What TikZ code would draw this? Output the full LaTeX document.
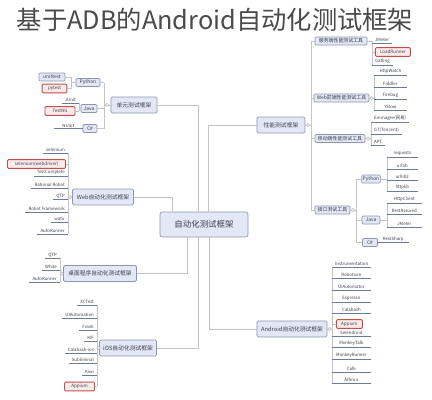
\documentclass[tikz,border=0pt]{standalone}
\usepackage{fontspec}
\setmainfont{Noto Sans CJK SC}

\definecolor{frame}{HTML}{8C96B4}
\definecolor{boxfill}{HTML}{E3E8F4}
\definecolor{wire}{HTML}{C4C4C4}
\definecolor{uline}{HTML}{6E7A98}
\definecolor{hot}{HTML}{C0504D}
\definecolor{hotfill}{HTML}{FBEAEA}
\definecolor{ink}{HTML}{3A3F4E}
\definecolor{titlegray}{HTML}{4A4A4A}

\begin{document}
\begin{tikzpicture}[x=0.25mm, y=-0.25mm, line width=0.5pt,
  root/.style={draw=frame, fill=boxfill, rounded corners=1.5pt, minimum width=22mm, minimum height=6.2mm, font=\fontsize{6}{7}\selectfont, text=ink},
  topic/.style={draw=frame, fill=boxfill, rounded corners=1pt, minimum height=4mm, inner xsep=1pt, font=\fontsize{4.1}{5}\selectfont, text=ink},
  sub/.style={draw=frame, fill=boxfill, rounded corners=0.8pt, minimum height=2mm, inner sep=0.8pt, font=\fontsize{3.5}{4}\selectfont, text=ink},
  hotbox/.style={draw=hot, fill=hotfill, line width=0.6pt, rounded corners=0.8pt, minimum height=2.2mm, inner sep=0.8pt, font=\fontsize{3.2}{4}\selectfont, text=ink},
  leaf/.style={inner xsep=2pt, inner ysep=0.6pt, font=\fontsize{3.1}{3.6}\selectfont, text=ink},
  wire/.style={draw=wire},
  uline/.style={draw=uline, line width=0.45pt},
  knob/.style={circle, draw=wire, fill=white, inner sep=0pt, minimum size=0.8mm}]

\useasboundingbox (0,0) rectangle (432,400);

\node[font=\fontsize{18}{20}\selectfont, text=titlegray] (title) at (215,20) {基于ADB的Android自动化测试框架};

% main topics
\node[root] (root) at (204,224.5) {自动化测试框架};
\node[topic, minimum width=11.5mm] (unit) at (134,105) {单元测试框架};
\node[topic, minimum width=15.25mm] (web) at (103,197) {Web自动化测试框架};
\node[topic, minimum width=18.25mm] (desk) at (100,273.5) {桌面程序自动化测试框架};
\node[topic, minimum width=14.25mm] (ios) at (128,348) {iOS自动化测试框架};
\node[topic, minimum width=12mm] (perf) at (281,125) {性能测试框架};
\node[topic, minimum width=17.5mm] (andr) at (292,329) {Android自动化测试框架};

\draw[wire] (root.north) ++(-32,0) |- (web.east);
\draw[wire] (root.north) ++(-6,0) |- (unit.east);
\draw[wire] (root.north) ++(4,0) |- (perf.west);
\draw[wire] (root.south) ++(-17,0) |- (desk.east);
\draw[wire] (root.south) ++(-6,0) |- (ios.east);
\draw[wire] (root.south) ++(5,0) |- (andr.west);

% unit tests
\node[sub, minimum width=6mm] (pyu) at (88,82.5) {Python};
\node[sub, minimum width=4mm] (jvu) at (89,108.5) {Java};
\node[sub, minimum width=3.5mm] (csu) at (90,128.5) {C\#};
\draw[wire] (104,82.5) -- (104,128.5);
\draw[wire] (unit.west) -- (104,105);
\draw[wire] (pyu.east) -- (104,82.5);
\draw[wire] (jvu.east) -- (104,108.5);
\draw[wire] (csu.east) -- (104,128.5);
\node[knob] (k-unit) at (107,105) {};

\node[sub, minimum width=6.5mm] (ut) at (52,77) {unittest};
\node[hotbox, minimum width=6.2mm] (pt) at (54.5,88.5) {pytest};
\draw[wire] (71,77) -- (71,88.5);
\draw[wire] (ut.east) -- (71,77);
\draw[wire] (pt.east) -- (71,88.5);
\draw[wire] (pyu.west) -- (71,82.5);

\node[leaf, anchor=south east] (junit) at (79,103) {JUnit};
\draw[uline] (junit.south west) -- (junit.south east);
\node[hotbox, minimum width=7.5mm] (tng) at (60,111) {TestNG};
\draw[wire] (79,103) -- (79,111);
\draw[wire] (tng.east) -- (79,111);
\draw[wire] (jvu.west) -- (79,108.5);

\node[leaf, anchor=south east, minimum width=7mm] (nunit) at (csu.west) {NUnit};
\draw[uline] (nunit.south west) -- (nunit.south east);

% web
\draw[wire] (68,153) -- (68,234);
\draw[wire] (web.west) -- (68,197);
\foreach \y/\t [count=\i] in {153/selenium, 176/TestComplete, 188/Rational Robot, 199/QTP, 212/Robot Framework, 222/watir, 234/AutoRunner}{
  \node[leaf, anchor=south east] (web-\i) at (68,\y) {\t};
  \draw[uline] (web-\i.south west) -- (web-\i.south east);
}
\node[hotbox, anchor=east, minimum width=14.5mm] (web-hot) at (66,164) {selenium(webdriver)};
\draw[wire] (web-hot.east) -- (68,164);
\node[knob] (k-web) at (70,197) {};

% desktop
\draw[wire] (60,258) -- (60,282);
\draw[wire] (desk.west) -- (60,273.5);
\foreach \y/\t [count=\i] in {258/QTP, 270/White, 282/AutoRunner}{
  \node[leaf, anchor=south east] (desk-\i) at (60,\y) {\t};
  \draw[uline] (desk-\i.south west) -- (desk-\i.south east);
}
\node[knob] (k-desk) at (61.5,273.5) {};

% ios
\draw[wire] (97,305) -- (97,386);
\draw[wire] (ios.west) -- (97,348);
\foreach \y/\t [count=\i] in {305/XCTest, 318/UIAutomation, 330/Frank, 341/KIF, 353/Calabash-ios, 363/Subliminal, 375/Kiwi}{
  \node[leaf, anchor=south east] (ios-\i) at (97,\y) {\t};
  \draw[uline] (ios-\i.south west) -- (ios-\i.south east);
}
\node[hotbox, anchor=east, minimum width=7.5mm] (ios-hot) at (95,386.5) {Appium};
\draw[wire] (ios-hot.east) -- (97,386.5);
\node[knob] (k-ios) at (98.5,348) {};

% performance
\node[sub, minimum width=13mm] (serv) at (341,41) {服务端性能测试工具};
\node[sub, minimum width=13.75mm] (webfe) at (341.5,98) {Web前端性能测试工具};
\node[sub, minimum width=12.5mm] (mob) at (340,138.5) {移动端性能测试工具};
\node[sub, minimum width=8.75mm] (api) at (332.5,210) {接口测试工具};
\draw[wire] (311,41) -- (311,210);
\draw[wire] (perf.east) -- (311,125);
\draw[wire] (serv.west) -- (311,41);
\draw[wire] (webfe.west) -- (311,98);
\draw[wire] (mob.west) -- (311,138.5);
\draw[wire] (api.west) -- (311,210);
\node[knob] (k-perf) at (308,125) {};

\draw[wire] (372,41) -- (372,65);
\draw[wire] (serv.east) -- (372,41);
\foreach \y/\t [count=\i] in {43/JMeter, 65/Gatling}{
  \node[leaf, anchor=south west] (serv-\i) at (372,\y) {\t};
  \draw[uline] (serv-\i.south west) -- (serv-\i.south east);
}
\node[hotbox, anchor=west, minimum width=8.75mm] (serv-hot) at (375,52) {LoadRunner};
\draw[wire] (372,52) -- (serv-hot.west);

\draw[wire] (374,75) -- (374,110);
\draw[wire] (webfe.east) -- (374,98);
\foreach \y/\t [count=\i] in {75/HttpWatch, 87/Fiddler, 99/Firebug, 110/YSlow}{
  \node[leaf, anchor=south west, minimum width=8mm] (webfe-\i) at (374,\y) {\t};
  \draw[uline] (webfe-\i.south west) -- (webfe-\i.south east);
}
\node[knob] (k-webfe) at (371.5,98) {};

\draw[wire] (371,122) -- (371,145);
\draw[wire] (mob.east) -- (371,138.5);
\foreach \y/\t [count=\i] in {122/Emmagee(网易), 134/GT(Tencent), 145/APT}{
  \node[leaf, anchor=south west] (mob-\i) at (371,\y) {\t};
  \draw[uline] (mob-\i.south west) -- (mob-\i.south east);
}
\node[knob] (k-mob) at (368,138.5) {};

\node[sub, minimum width=4.5mm] (pya) at (371,179) {Python};
\node[sub, minimum width=4.5mm] (jva) at (371,220) {Java};
\node[sub, minimum width=3.75mm] (csa) at (370,242.5) {C\#};
\draw[wire] (356,179) -- (356,242.5);
\draw[wire] (api.east) -- (356,210);
\draw[wire] (pya.west) -- (356,179);
\draw[wire] (jva.west) -- (356,220);
\draw[wire] (csa.west) -- (356,242.5);
\node[knob] (k-api) at (353,210) {};

\draw[wire] (387,157) -- (387,191);
\draw[wire] (pya.east) -- (387,179);
\foreach \y/\t [count=\i] in {157/requests, 169/urllib, 180/urllib2, 191/httplib}{
  \node[leaf, anchor=south west, minimum width=7.5mm] (pya-\i) at (387,\y) {\t};
  \draw[uline] (pya-\i.south west) -- (pya-\i.south east);
}
\draw[wire] (387,203) -- (387,227);
\draw[wire] (jva.east) -- (387,220);
\foreach \y/\t [count=\i] in {203/HttpClient, 214/RestAssured, 227/JMeter}{
  \node[leaf, anchor=south west, minimum width=8.5mm] (jva-\i) at (387,\y) {\t};
  \draw[uline] (jva-\i.south west) -- (jva-\i.south east);
}
\node[leaf, anchor=south west, minimum width=7.5mm] (rsharp) at (csa.east) {RestSharp};
\draw[uline] (rsharp.south west) -- (rsharp.south east);

% android
\draw[wire] (332,267) -- (332,383);
\draw[wire] (andr.east) -- (332,329);
\foreach \y/\t [count=\i] in {267/Instrumentation, 278/Robotium, 290/UIAutomator, 302/Espresso, 313/Calabash, 336/Selendroid, 347/MonkeyTalk, 359/MonkeyRunner, 372/Cafe, 383/Athrun}{
  \node[leaf, anchor=south west, minimum width=9.5mm] (andr-\i) at (332,\y) {\t};
  \draw[uline] (andr-\i.south west) -- (andr-\i.south east);
}
\node[hotbox, anchor=west, minimum width=6.5mm] (andr-hot) at (336,324) {Appium};
\draw[wire] (332,324) -- (andr-hot.west);
\node[knob] (k-andr) at (329.5,329) {};

\end{tikzpicture}
\end{document}
